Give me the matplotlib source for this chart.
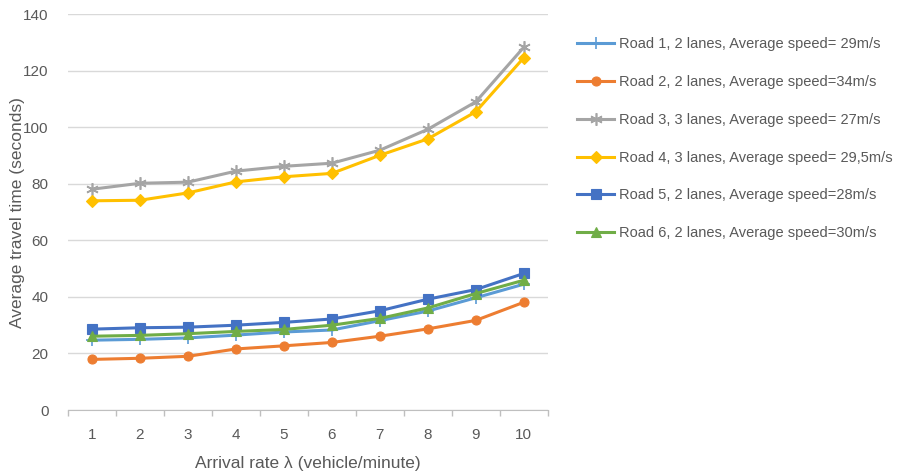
import numpy as np
import matplotlib.pyplot as plt
from matplotlib.ticker import MultipleLocator, FixedLocator

plt.rcParams['font.family'] = ['Liberation Sans', 'DejaVu Sans']

# data
arrival_rate = [1, 2, 3, 4, 5, 6, 7, 8, 9, 10]
road1 = [24.7, 25.0, 25.5, 26.5, 27.6, 28.3, 31.6, 35.0, 39.7, 44.5]
road2 = [17.9, 18.3, 19.0, 21.6, 22.7, 23.9, 26.1, 28.7, 31.7, 38.1]
road3 = [78.1, 80.2, 80.6, 84.5, 86.2, 87.3, 91.9, 99.3, 109.0, 128.3]
road4 = [74.0, 74.2, 76.8, 80.7, 82.5, 83.7, 90.1, 95.9, 105.5, 124.6]
road5 = [28.6, 29.1, 29.3, 30.0, 31.0, 32.2, 35.1, 39.2, 42.6, 48.3]
road6 = [26.1, 26.4, 27.0, 27.8, 28.5, 30.0, 32.4, 36.1, 41.2, 45.9]

labels = [
    "Road 1, 2 lanes, Average speed= 29m/s",
    "Road 2, 2 lanes, Average speed=34m/s",
    "Road 3, 3 lanes, Average speed= 27m/s",
    "Road 4, 3 lanes, Average speed= 29,5m/s",
    "Road 5, 2 lanes, Average speed=28m/s",
    "Road 6, 2 lanes, Average speed=30m/s",
]
colors = ["#5B9BD5", "#ED7D31", "#A5A5A5", "#FFC000", "#4472C4", "#70AD47"]
markers = ["+", "o", (6, 2, 0), "D", "s", "^"]
msizes = [8, 6.5, 9, 6, 6.5, 7]

txt = "#595959"

fig = plt.figure(figsize=(9, 4.74), dpi=100)
ax = fig.add_axes([0.0756, 0.135, 0.533, 0.835])

series = [road1, road2, road3, road4, road5, road6]
for vals, lab, c, m, ms in zip(series, labels, colors, markers, msizes):
    thin = m == "+" or isinstance(m, tuple)
    ax.plot(arrival_rate, vals, color=c, lw=2.2, marker=m, markersize=ms,
            markeredgewidth=1.2 if thin else 0.8, label=lab)

ax.set_xlim(0.5, 10.5)
ax.set_ylim(0, 140)
ax.yaxis.set_major_locator(MultipleLocator(20))
ax.set_xticks(arrival_rate)
ax.xaxis.set_minor_locator(FixedLocator(np.arange(0.5, 11, 1)))
ax.tick_params(axis='x', which='major', length=0, labelsize=11, colors=txt, pad=13)
ax.tick_params(axis='x', which='minor', length=4, color="#bfbfbf", width=1)
ax.tick_params(axis='y', length=0, labelsize=11, colors=txt, pad=14)

ax.grid(axis='y', color="#d9d9d9", lw=1)
ax.set_axisbelow(True)
for s in ['top', 'right', 'left']:
    ax.spines[s].set_visible(False)
ax.spines['bottom'].set_color("#bfbfbf")

ax.set_xlabel("Arrival rate λ (vehicle/minute)", fontsize=12.5, color=txt, labelpad=10)
ax.set_ylabel("Average travel time (seconds)", fontsize=12.5, color=txt)
ax.yaxis.set_label_coords(-0.09, 0.5)

leg = fig.legend(loc='upper left', bbox_to_anchor=(0.627, 0.949), frameon=False,
                 fontsize=10.5, labelspacing=1.63, handlelength=2.5,
                 handletextpad=0.35, labelcolor=txt)

plt.savefig("out.png", dpi=100)
